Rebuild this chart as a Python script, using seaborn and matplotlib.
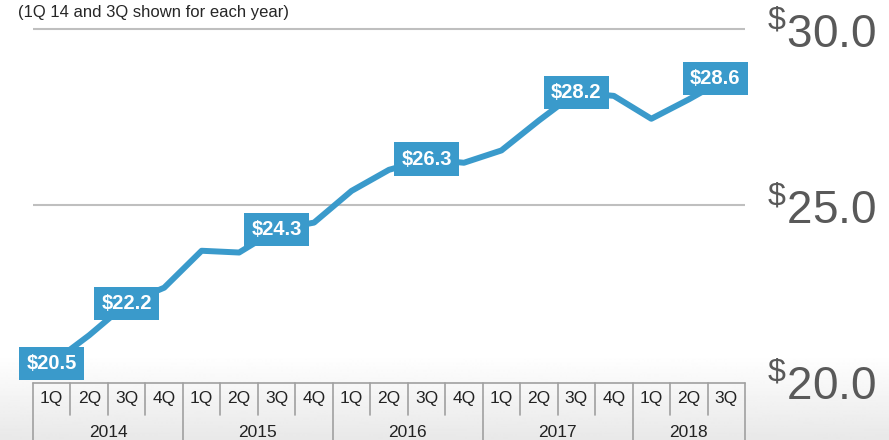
import numpy as np
import pandas as pd
import matplotlib.pyplot as plt
import seaborn as sns

quarters = ['1Q', '2Q', '3Q', '4Q'] * 4 + ['1Q', '2Q', '3Q']
years = ['2014', '2015', '2016', '2017', '2018']
values = [20.5, 21.3, 22.2, 22.65, 23.7, 23.65, 24.3, 24.5, 25.4, 26.0,
          26.3, 26.2, 26.55, 27.4, 28.2, 28.1, 27.45, 28.0, 28.6]
label_idx = [0, 2, 6, 10, 14, 18]
yticks = [20, 25, 30]
subtitle = '(1Q 14 and 3Q shown for each year)'

df = pd.DataFrame({'pos': range(len(values)), 'value': values})

sns.set_style('white')
plt.rcParams['font.family'] = ['Liberation Sans', 'DejaVu Sans']
plt.rcParams['mathtext.fontset'] = 'custom'
plt.rcParams['mathtext.rm'] = 'Liberation Sans'

blue = '#3A9ACB'
W, H = 889, 440
fig = plt.figure(figsize=(W / 100, H / 100), dpi=100)

# slide background: white fading to light grey at the bottom
bg = fig.add_axes([0, 0, 1, 1], zorder=-10)
rows = np.arange(H)
shade = np.interp(rows, [0, 355, H], [1.0, 1.0, 0.91])
bg.imshow(np.tile(shade[:, None], (1, 2)), cmap='gray', vmin=0, vmax=1,
          aspect='auto', extent=[0, 1, 0, 1])
bg.axis('off')

# main line chart
ax = fig.add_axes([33 / W, (H - 383) / H, 712 / W, (383 - 18) / H])
ax.patch.set_alpha(0)
sns.lineplot(data=df, x='pos', y='value', ax=ax, color=blue, linewidth=4.3, zorder=3)
ax.set_xlim(-0.5, len(values) - 0.5)
ax.set_ylim(20 - 2 / 35.2, 30 + 11 / 35.2)
ax.set_xticks([])
ax.set_xlabel('')
ax.set_ylabel('')
ax.yaxis.tick_right()
ax.set_yticks(yticks)
ax.set_yticklabels([r'$^{\$}$' + f'{t:.1f}' for t in yticks])
ax.tick_params(axis='y', length=0, pad=16, labelsize=33, labelcolor='#595959')
ax.yaxis.grid(True, color='#BFBFBF', linewidth=1.5)
ax.get_ygridlines()[0].set_visible(False)
sns.despine(ax=ax, left=True, bottom=True, right=True, top=True)

for i in label_idx:
    dx = -8 if i == len(values) - 1 else 0
    ax.annotate(f'${values[i]:.1f}', (i, values[i]), xytext=(dx, 0),
                textcoords='offset points', ha='center', va='center',
                color='white', fontsize=14.5, fontweight='bold', zorder=5,
                bbox=dict(boxstyle='square,pad=0.36', fc=blue, ec='none'))

fig.text(18 / W, 1 - 12 / H, subtitle, fontsize=12, ha='left', va='center')

# quarter / year table under the chart
tab = fig.add_axes([33 / W, 0, 712 / W, 57 / H])
tab.patch.set_alpha(0)
tab.set_xlim(-0.5, len(values) - 0.5)
tab.set_ylim(0, 1)
tab.axis('off')
lc = '#A0A0A0'
tab.plot([-0.5, len(values) - 0.5], [1, 1], color=lc, lw=1.2, clip_on=False)
for k in range(len(values) + 1):
    bottom = 0 if k % 4 == 0 or k == len(values) else 0.44
    tab.plot([k - 0.5, k - 0.5], [bottom, 1], color=lc, lw=1.2, clip_on=False)
for i, q in enumerate(quarters):
    tab.text(i, 0.72, q, ha='center', va='center', fontsize=12.5, color='#222222')
for k, yr in enumerate(years):
    idx = [i for i in range(len(values)) if i // 4 == k]
    tab.text(np.mean(idx), 0.13, yr, ha='center', va='center', fontsize=12.5, color='#222222')

fig.savefig('out.png', dpi=100)
